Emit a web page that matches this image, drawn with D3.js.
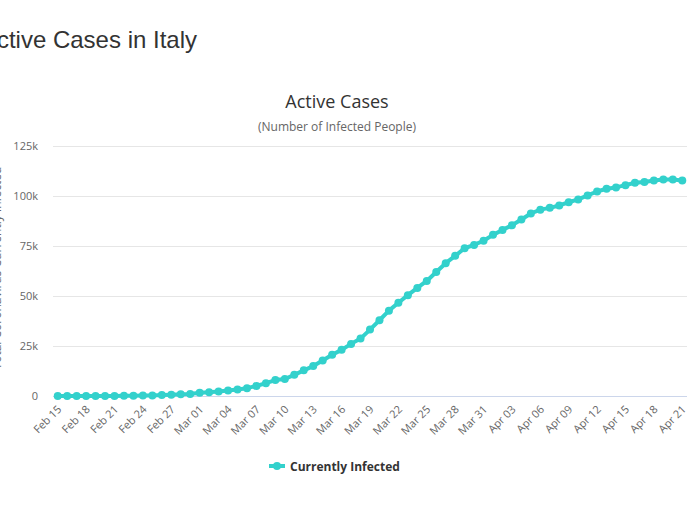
<!DOCTYPE html>
<html><head><meta charset="utf-8">
<script src="https://cdn.jsdelivr.net/npm/d3@7"></script>
<style>body{margin:0;background:#fff;}svg{display:block;}</style>
</head><body>
<script>
const dates = ["Feb 15","Feb 16","Feb 17","Feb 18","Feb 19","Feb 20","Feb 21","Feb 22","Feb 23","Feb 24","Feb 25","Feb 26","Feb 27","Feb 28","Feb 29",
"Mar 01","Mar 02","Mar 03","Mar 04","Mar 05","Mar 06","Mar 07","Mar 08","Mar 09","Mar 10","Mar 11","Mar 12","Mar 13","Mar 14","Mar 15","Mar 16","Mar 17","Mar 18","Mar 19","Mar 20","Mar 21","Mar 22","Mar 23","Mar 24","Mar 25","Mar 26","Mar 27","Mar 28","Mar 29","Mar 30","Mar 31",
"Apr 01","Apr 02","Apr 03","Apr 04","Apr 05","Apr 06","Apr 07","Apr 08","Apr 09","Apr 10","Apr 11","Apr 12","Apr 13","Apr 14","Apr 15","Apr 16","Apr 17","Apr 18","Apr 19","Apr 20","Apr 21"];
const infected = [3,3,3,3,3,3,17,79,150,221,311,438,593,821,1049,
1577,1835,2263,2706,3296,3916,5061,6387,7985,8514,10590,12839,14955,17750,20603,23073,26062,28710,33190,37860,42681,46638,50418,54030,57521,62013,66414,70065,73880,75528,77635,
80572,83049,85388,88274,91246,93187,94067,95262,96877,98273,100269,102253,103616,104291,105418,106607,106962,107771,108257,108237,107709];
const yTicks = [0,25000,50000,75000,100000,125000];
const yTickLabels = ["0","25k","50k","75k","100k","125k"];
const seriesName = "Currently Infected";

(function(){
const W=700,H=525;
const svg = d3.select("body").append("svg").attr("width",W).attr("height",H);
const font = "'Open Sans', 'DejaVu Sans', sans-serif";
const color = "#33d1cc";

const pLeft=53,pRight=687,pTop=146,pBottom=396;
const x = d3.scalePoint().domain(dates).range([pLeft,pRight]).padding(0.5);
const y = d3.scaleLinear().domain([0,125000]).range([pBottom,pTop]);

svg.append("text").attr("x",197).attr("y",48).attr("text-anchor","end")
  .attr("font-family","'Liberation Sans', Arial, sans-serif").attr("font-size",24).attr("fill","#333").text("Active Cases in Italy");

svg.append("text").attr("x",337).attr("y",108).attr("text-anchor","middle")
  .attr("font-family",font).attr("font-size",18).attr("fill","#333").text("Active Cases");
svg.append("text").attr("x",337).attr("y",131).attr("text-anchor","middle")
  .attr("font-family",font).attr("font-size",12).attr("fill","#666").text("(Number of Infected People)");

const yAxis = d3.axisLeft(y).tickValues(yTicks).tickSize(-(pRight-pLeft)).tickFormat((d,i)=>yTickLabels[i]);
const gy = svg.append("g").attr("transform",`translate(${pLeft},0)`).call(yAxis);
gy.select(".domain").remove();
gy.selectAll(".tick line").attr("stroke","#e6e6e6").attr("stroke-width",1);
gy.selectAll(".tick text").attr("x",-15).attr("font-family",font).attr("font-size",11).attr("fill","#666");
gy.selectAll(".tick").filter(d=>d===0).select("line").attr("stroke","#ccd6eb");

const xAxis = d3.axisBottom(x).tickValues(dates.filter((d,i)=>i%3===0)).tickSize(0);
const gx = svg.append("g").attr("transform",`translate(0,${pBottom})`).call(xAxis);
gx.select(".domain").remove();
gx.selectAll(".tick text").attr("text-anchor","end").attr("dy",0).attr("y",0)
  .attr("transform","translate(4,14) rotate(-45)")
  .attr("font-family",font).attr("font-size",11).attr("fill","#666");

svg.append("text").attr("transform","translate(1,268) rotate(-90)").attr("text-anchor","middle")
  .attr("font-family",font).attr("font-size",12).attr("fill","#666").text("Total Coronavirus Currently Infected");

const line = d3.line().x((d,i)=>x(dates[i])).y(d=>y(d));
svg.append("path").datum(infected).attr("d",line).attr("fill","none").attr("stroke",color).attr("stroke-width",4).attr("stroke-linejoin","round");
svg.append("g").selectAll("circle").data(infected).join("circle")
  .attr("cx",(d,i)=>x(dates[i])).attr("cy",d=>y(d)).attr("r",4).attr("fill",color);

const lg = svg.append("g").attr("transform","translate(269,466)");
lg.append("line").attr("x1",0).attr("x2",16).attr("stroke",color).attr("stroke-width",4);
lg.append("circle").attr("cx",8).attr("cy",0).attr("r",4).attr("fill",color);
lg.append("text").attr("x",21).attr("y",4.5).attr("font-family",font).attr("font-size",12).attr("font-weight","bold").attr("fill","#333").text(seriesName);
})();
</script>
</body></html>
